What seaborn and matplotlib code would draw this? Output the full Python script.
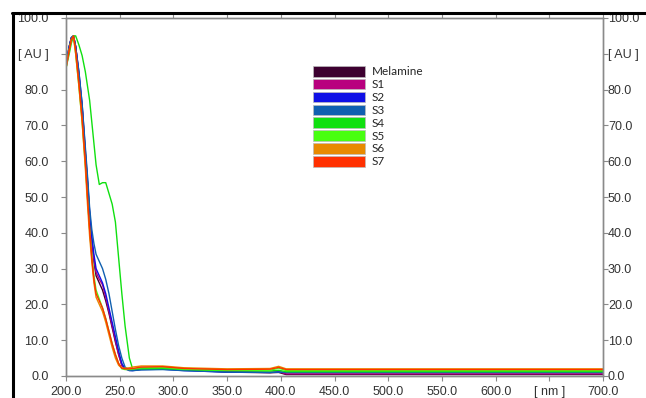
"""UV-Vis absorption spectra of melamine and samples S1-S7."""
import pandas as pd
import matplotlib
matplotlib.use("Agg")
import matplotlib.pyplot as plt
from matplotlib.patches import Patch
from matplotlib.lines import Line2D
import seaborn as sns

# wavelength grid (nm) shared by all spectra
wavelength = [200, 203, 205, 207, 209, 212, 215, 218, 220, 222, 224, 226, 228, 231,
              234, 237, 240, 243, 246, 249, 252, 255, 259, 262, 270, 290, 310, 350,
              390, 398, 405, 450, 550, 700]

# absorbance values
melamine = [87, 92, 94.5, 95, 92, 84, 75, 62, 54, 45, 37.5, 32, 28, 26,
            24, 21, 17.5, 13.5, 9.5, 6, 3, 2, 1.7, 1.7, 2.2, 2.3, 1.7, 1.1,
            0.9, 1.0, 0.4, 0.4, 0.4, 0.4]
s1 = [87, 92, 94.5, 95, 92, 84, 75, 62, 54, 45, 38, 32.5, 29, 27,
      25.5, 22, 18, 14, 10, 6, 3, 2, 1.8, 1.8, 2.2, 2.3, 1.8, 1.2,
      1.0, 1.2, 0.6, 0.6, 0.6, 0.6]
s2 = [87, 92, 94.5, 95, 92, 85, 76, 63, 55, 46, 39, 34, 30, 28,
      26, 23, 19, 15, 11, 7, 3.5, 2, 1.5, 1.5, 1.8, 1.9, 1.5, 1.1,
      1.0, 1.1, 1.0, 1.0, 1.0, 1.0]
s3 = [87, 92, 94.5, 95, 92, 85, 76, 64, 56, 47, 41, 37, 34, 32,
      30, 27, 23, 18, 13, 8.5, 5, 2.5, 1.6, 1.5, 1.7, 1.8, 1.5, 1.1,
      1.0, 1.1, 1.0, 1.0, 1.0, 1.0]
s4 = [86, 90, 93, 95, 95, 92.5, 89.5, 85, 81, 77, 71, 65, 59, 53.5,
      54, 54, 51, 48, 43, 33, 23, 14, 5, 2, 2, 2.1, 1.8, 1.5,
      1.4, 1.6, 1.2, 1.2, 1.2, 1.2]
s5 = [86, 91, 94, 95, 90, 81, 71, 59, 50, 41, 34, 28, 24, 21.5,
      19, 16, 12.5, 9, 6, 3.5, 2, 1.8, 1.8, 1.9, 2.3, 2.4, 1.9, 1.6,
      1.6, 2.2, 1.5, 1.5, 1.5, 1.5]
s6 = [86, 91, 94, 94.5, 90, 81, 71, 58, 48, 39, 32, 26, 22, 20,
      18, 15, 11.5, 8, 5, 3, 2.2, 2.2, 2.3, 2.5, 2.8, 2.8, 2.3, 2.0,
      2.1, 2.7, 2.0, 2.0, 2.0, 2.0]
s7 = [86, 91, 94, 95, 91, 82, 72, 60, 50, 41, 33, 27, 23, 21,
      19, 16, 12.5, 9, 6, 3.5, 2.2, 2, 2, 2.1, 2.5, 2.6, 2.1, 1.8,
      1.9, 2.4, 1.8, 1.8, 1.8, 1.8]

names = ["Melamine", "S1", "S2", "S3", "S4", "S5", "S6", "S7"]
colors = ["#3d0030", "#b8007e", "#1010e6", "#1060b0", "#10e010", "#48ff10", "#e88a00", "#ff3000"]

y_ticks = [0, 10, 20, 30, 40, 50, 60, 70, 80, 90, 100]
y_labels = ["0.0", "10.0", "20.0", "30.0", "40.0", "50.0", "60.0", "70.0", "80.0", "[ AU ]", "100.0"]
x_ticks = [200, 250, 300, 350, 400, 450, 500, 550, 600, 650, 700]
x_labels = ["200.0", "250.0", "300.0", "350.0", "400.0", "450.0", "500.0", "550.0", "600.0", "[ nm ]", "700.0"]


def style_axis(axis):
    """Gray frame and ticks like the instrument software."""
    for side in ["left", "right", "top", "bottom"]:
        axis.spines[side].set_visible(True)
        axis.spines[side].set_color("#8a8a8a")
        axis.spines[side].set_linewidth(1.0)
    axis.tick_params(axis="both", direction="out", length=3.5, width=0.8, color="#8a8a8a",
                     labelsize=9, labelcolor="#333333")


def main():
    series = [melamine, s1, s2, s3, s4, s5, s6, s7]
    frames = []
    for name, vals in zip(names, series):
        frames.append(pd.DataFrame({"nm": wavelength, "AU": vals, "sample": name}))
    df = pd.concat(frames, ignore_index=True)

    sns.set_style("white")
    plt.rcParams["font.family"] = ["Liberation Sans", "DejaVu Sans"]

    fig = plt.figure(figsize=(6.46, 3.98), dpi=100)
    ax = fig.add_axes([66 / 646, 1 - 376 / 398, (603 - 66) / 646, (376 - 18) / 398])

    sns.lineplot(data=df, x="nm", y="AU", hue="sample", palette=dict(zip(names, colors)),
                 estimator=None, sort=False, linewidth=1.0, legend=False, ax=ax)

    ax.set_xlim(200, 700)
    ax.set_ylim(0, 100)
    ax.set_xticks(x_ticks)
    ax.set_xticklabels(x_labels)
    ax.set_yticks(y_ticks)
    ax.set_yticklabels(y_labels)
    ax.set_xlabel("")
    ax.set_ylabel("")
    style_axis(ax)
    ax.tick_params(axis="y", left=True, pad=9)
    ax.tick_params(axis="x", top=True, bottom=True, pad=4)

    # right-hand scale repeats the left one, closer to the frame
    ax2 = ax.twinx()
    ax2.set_ylim(0, 100)
    ax2.set_yticks(y_ticks)
    ax2.set_yticklabels(y_labels)
    style_axis(ax2)
    ax2.tick_params(axis="y", right=True, pad=0)

    handles = [Patch(facecolor=c, edgecolor="#bbbbbb", linewidth=0.5) for c in colors]
    fig.legend(handles, names, loc="upper left", bbox_to_anchor=(313 / 646, 1 - 66 / 398),
               bbox_transform=fig.transFigure, frameon=False,
               prop={"family": ["Lato", "DejaVu Sans"], "size": 8.5},
               handlelength=4.4, handleheight=1.0, labelspacing=0.13,
               handletextpad=0.55, borderpad=0, borderaxespad=0)

    # black frame of the cropped screenshot
    fig.add_artist(Line2D([13 / 646, 13 / 646], [0, 1 - 13 / 398], transform=fig.transFigure,
                          color="black", linewidth=2.2))
    fig.add_artist(Line2D([12 / 646, 1], [1 - 13 / 398, 1 - 13 / 398], transform=fig.transFigure,
                          color="black", linewidth=2.2))

    fig.savefig("out.png", dpi=100)
    plt.close(fig)


if __name__ == "__main__":
    main()
